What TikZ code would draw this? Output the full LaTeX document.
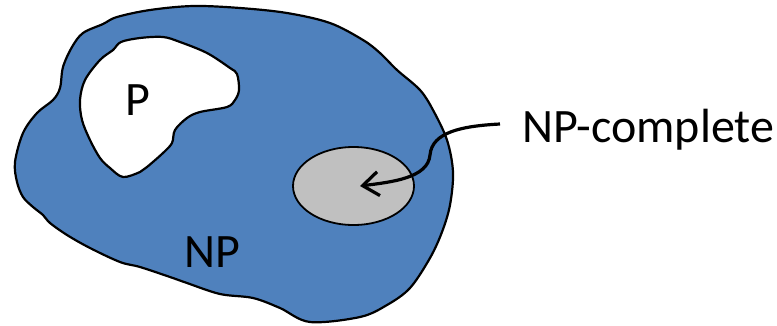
\documentclass[tikz,border=0pt]{standalone}
\usepackage{fontspec}
\setmainfont{Carlito}
\usetikzlibrary{shapes.geometric,arrows.meta}
\definecolor{npblue}{HTML}{4F81BD}
\definecolor{npcgrey}{HTML}{C0C0C0}
\tikzset{
  blob/.style={draw=black, line width=2.2pt, line join=round},
  lbl/.style={inner sep=0pt, font=\fontsize{48}{54}\selectfont},
  pointer/.style={draw=black, line width=3.2pt, -{Straight Barb[length=16pt,width=24pt,line width=3.2pt]}}
}
\begin{document}
\begin{tikzpicture}[x=1pt,y=-1pt]
\useasboundingbox (0,0) rectangle (777,325);
% NP region
\draw[blob, fill=npblue] plot[smooth cycle, tension=0.55] coordinates {
 (83,33) (103,24) (117,17) (150,10) (193,6) (240,8) (287,13) (330,23) (363,40)
 (380,53) (397,70) (420,90) (433,110) (447,140) (453,172) (450,205) (442,232)
 (430,258) (410,288) (387,305) (360,317) (310,322) (280,308) (253,298) (220,294)
 (187,283) (170,277) (140,267) (120,262) (90,248) (67,235) (50,223) (43,215)
 (33,207) (23,197) (17,182) (15,162) (23,133) (37,113) (53,100) (60,88) (63,67) (72,47)};
% P region
\draw[blob, fill=white] plot[smooth cycle, tension=0.55] coordinates {
 (121,42) (140,38) (163,37) (180,42) (207,53) (230,68) (237,74) (239,90) (235,100)
 (227,107) (200,112) (187,118) (175,130) (172,143) (163,153) (147,167) (140,172)
 (123,177) (110,168) (100,158) (90,140) (82,120) (80,100) (85,80) (100,60) (113,50)};
% NP-complete region
\node[ellipse, draw=black, line width=1.8pt, fill=npcgrey,
      minimum width=121pt, minimum height=78pt, inner sep=0pt] (npc) at (353.5,186) {};
% labels
\node[lbl, anchor=base] (p) at (137.5,115) {P};
\node[lbl, anchor=base] (np) at (212,267) {NP};
\node[lbl, anchor=base west] (npclabel) at (522,142) {NP-complete};
% arrow
\coordinate (start) at (500,124);
\coordinate (tip) at ([xshift=6.5pt]npc.center);
\draw[pointer] (start) .. controls (462,126) and (432,132) .. (430,155)
  .. controls (428,178) and (392,182) .. (tip);
\end{tikzpicture}
\end{document}
